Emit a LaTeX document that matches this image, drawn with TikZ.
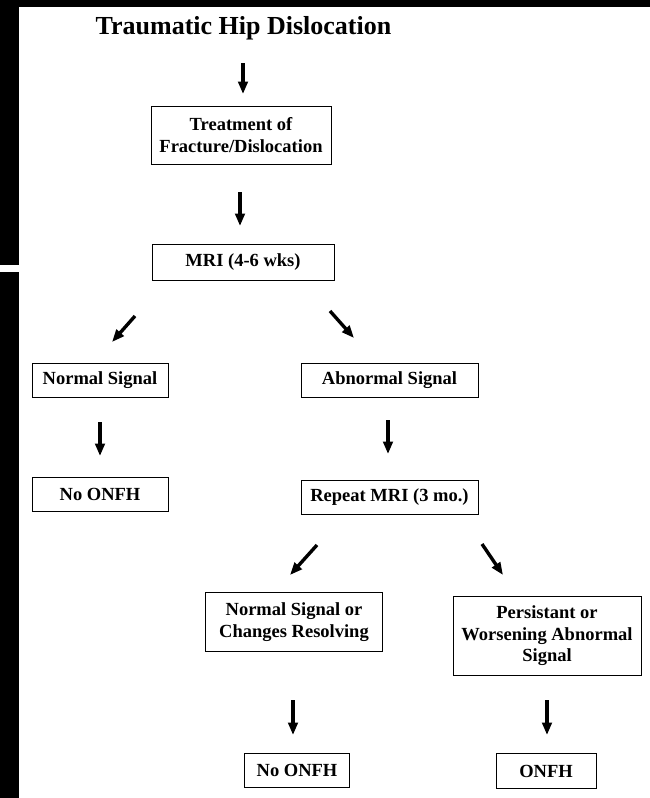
\documentclass[tikz,border=0pt]{standalone}
\usepackage{fontspec}
\setmainfont{Liberation Serif}
\usetikzlibrary{arrows.meta}
\begin{document}
\begin{tikzpicture}[x=1pt,y=-1pt,
  box/.style={draw,line width=1pt,inner sep=0pt,align=center,
    font=\fontsize{18.5}{21.5}\selectfont\bfseries},
  arr/.style={line width=3.4pt,-{Triangle[length=12.5pt,width=9.5pt]}},
  ttl/.style={inner sep=0pt,font=\fontsize{26}{29}\selectfont\bfseries}]
\useasboundingbox (0,0) rectangle (650,798);
% scan border
\fill (0,0) rectangle (650,7);
\fill (0,0) rectangle (19,265);
\fill (0,272) rectangle (19,798);
% nodes
\node[ttl,anchor=base] (title) at (243.5,34) {Traumatic Hip Dislocation};
\node[box,minimum width=180pt,minimum height=58pt] (treat) at (241,135) {Treatment of\\Fracture/Dislocation};
\node[box,minimum width=182pt,minimum height=36pt] (mri) at (243,262) {MRI (4-6 wks)};
\node[box,minimum width=136pt,minimum height=34pt] (ns) at (100,380) {Normal Signal};
\node[box,minimum width=177pt,minimum height=34pt] (abn) at (389.5,380) {Abnormal Signal};
\node[box,minimum width=136pt,minimum height=34pt] (no1) at (100,494) {No ONFH};
\node[box,minimum width=177pt,minimum height=34pt] (rep) at (389.5,497) {Repeat MRI (3 mo.)};
\node[box,minimum width=177pt,minimum height=59pt] (nsc) at (294,622) {Normal Signal or\\Changes Resolving};
\node[box,minimum width=188pt,minimum height=79pt] (pers) at (547,636) {Persistant or\\Worsening Abnormal\\Signal};
\node[box,minimum width=105pt,minimum height=34pt] (no2) at (297,770) {No ONFH};
\node[box,minimum width=100pt,minimum height=35pt] (onfh) at (546,771) {ONFH};
% arrow end points
\coordinate (a1s) at (243,63);  \coordinate (a1e) at (243,94);
\coordinate (a2s) at (240,192); \coordinate (a2e) at (240,226);
\coordinate (a3s) at (135,316); \coordinate (a3e) at (112,342);
\coordinate (a4s) at (330,311); \coordinate (a4e) at (354,338);
\coordinate (a5s) at (100,422); \coordinate (a5e) at (100,456);
\coordinate (a6s) at (388,420); \coordinate (a6e) at (388,454);
\coordinate (a7s) at (317,545); \coordinate (a7e) at (290,575);
\coordinate (a8s) at (482,544); \coordinate (a8e) at (503,575);
\coordinate (a9s) at (293,700); \coordinate (a9e) at (293,735);
\coordinate (a10s) at (547,700); \coordinate (a10e) at (547,735);
\draw[arr] (a1s) -- (a1e);
\draw[arr] (a2s) -- (a2e);
\draw[arr] (a3s) -- (a3e);
\draw[arr] (a4s) -- (a4e);
\draw[arr] (a5s) -- (a5e);
\draw[arr] (a6s) -- (a6e);
\draw[arr] (a7s) -- (a7e);
\draw[arr] (a8s) -- (a8e);
\draw[arr] (a9s) -- (a9e);
\draw[arr] (a10s) -- (a10e);
\end{tikzpicture}
\end{document}
